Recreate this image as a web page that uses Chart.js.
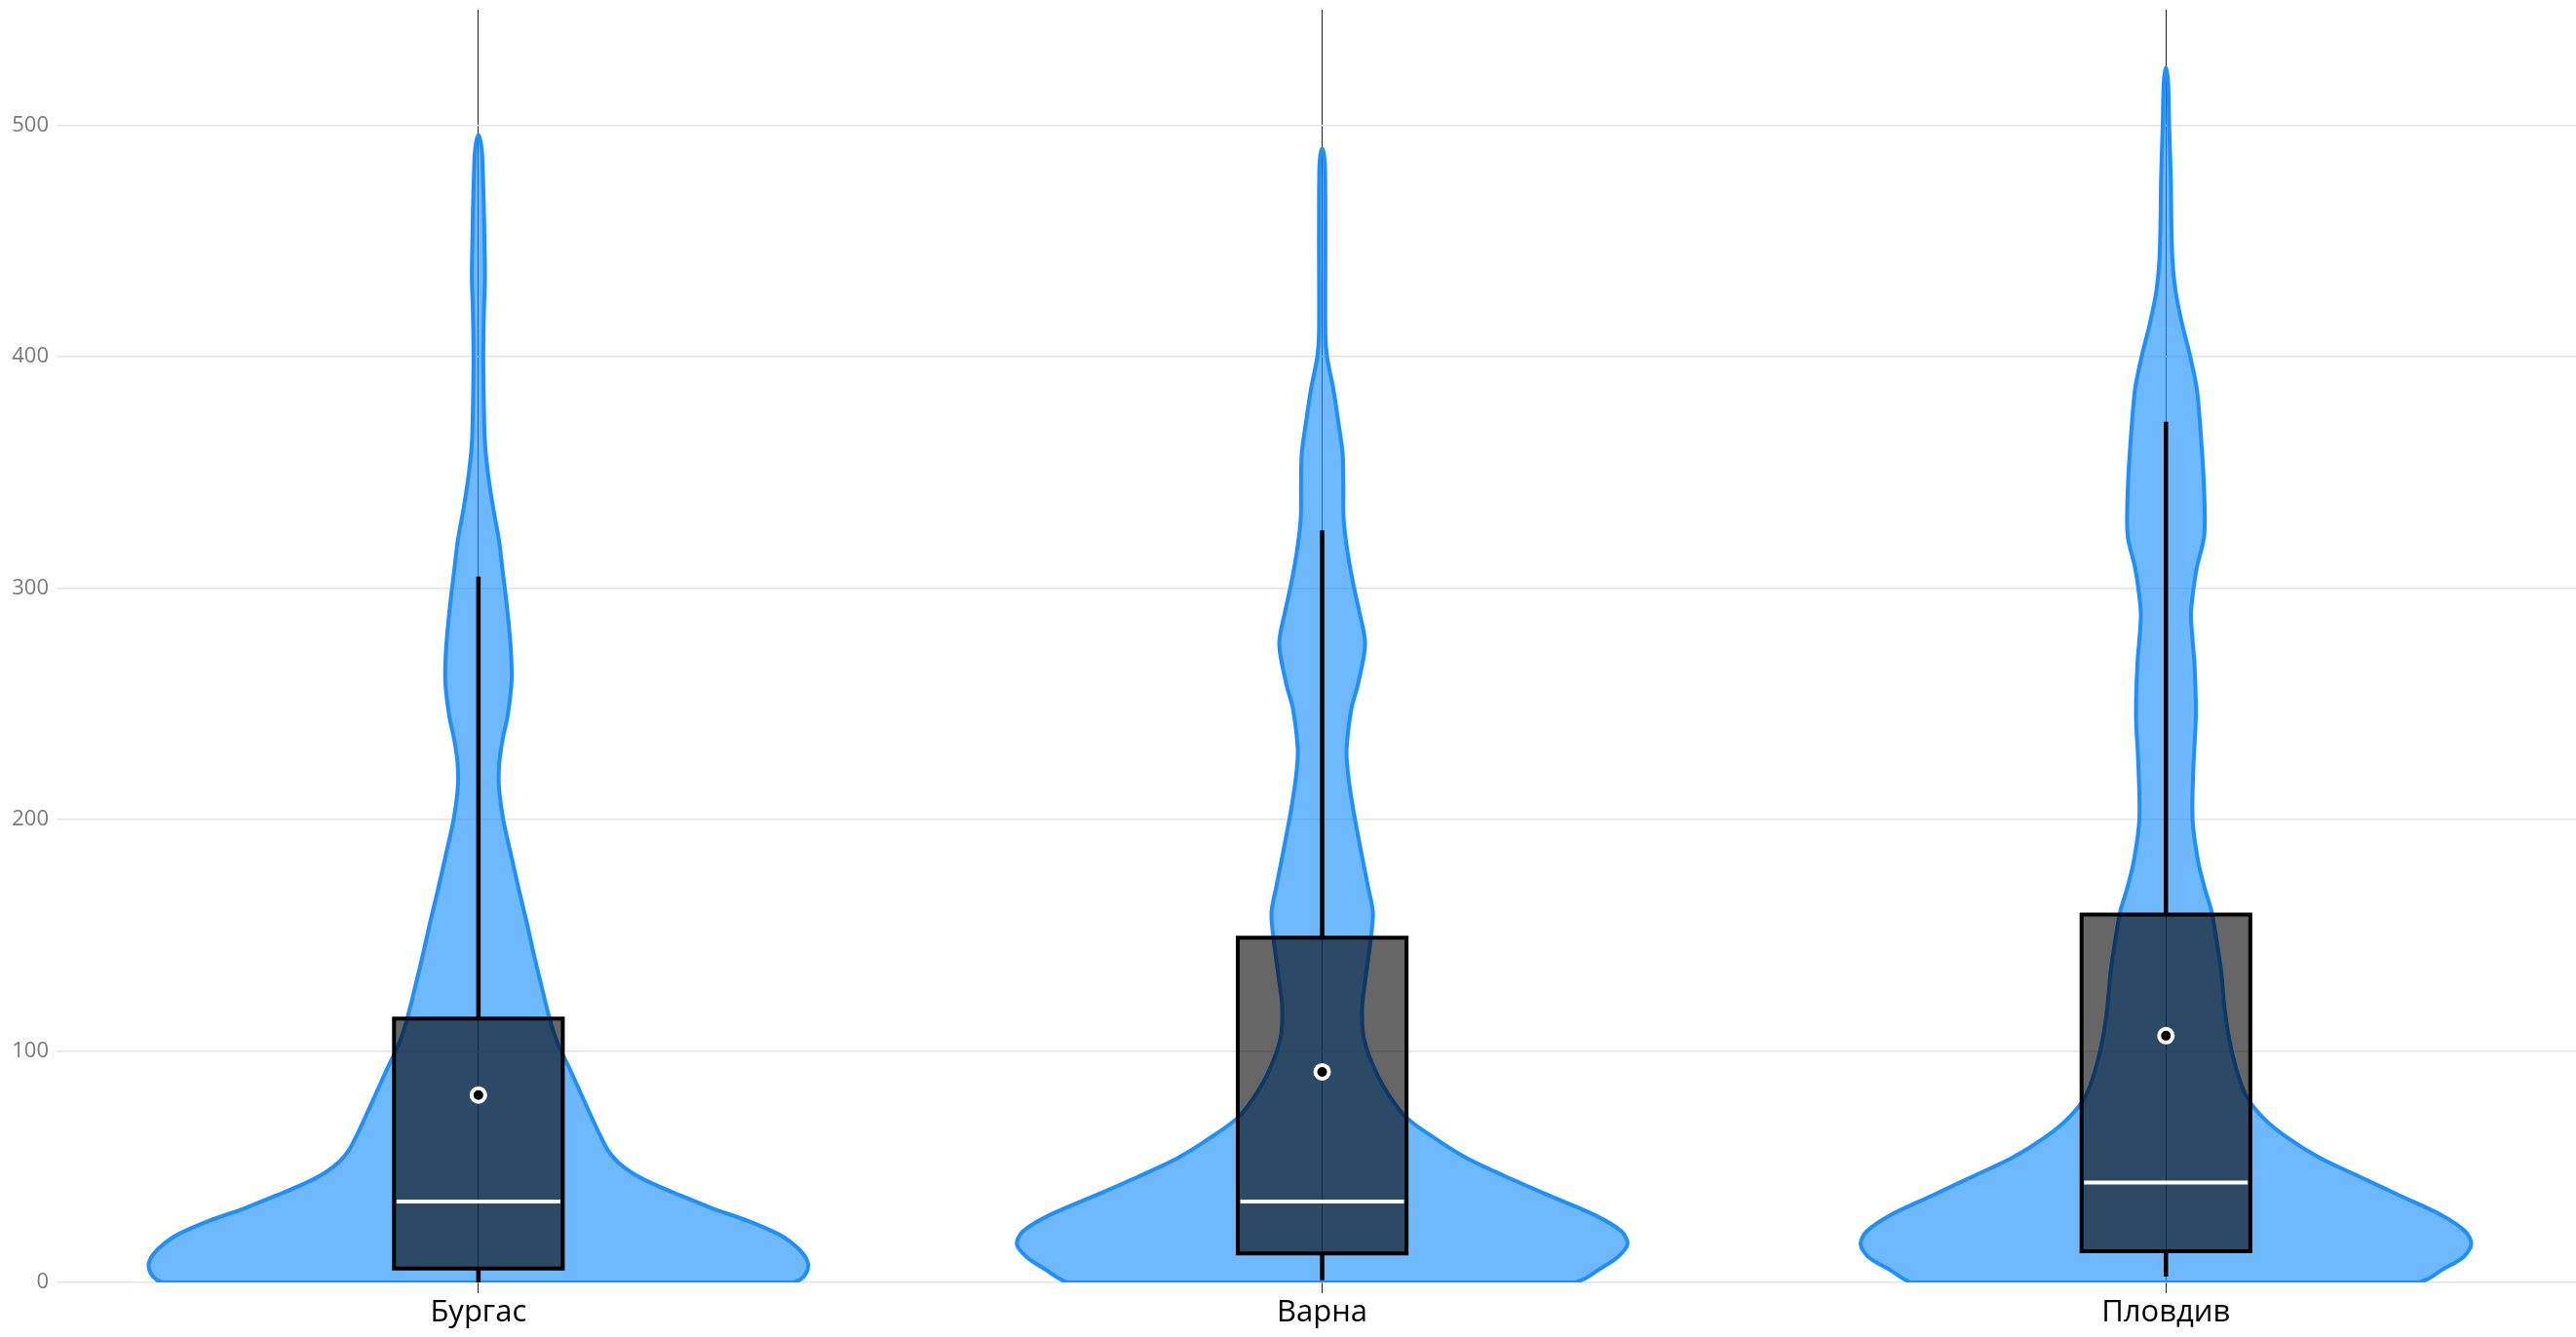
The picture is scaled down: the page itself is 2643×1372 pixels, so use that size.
<!DOCTYPE html>
<html>
<head>
<meta charset="utf-8">
<script src="https://cdn.jsdelivr.net/npm/chart.js@4.4.1/dist/chart.umd.min.js"></script>
<style>
html,body{margin:0;padding:0;background:#fff;}
#wrap{width:2643px;height:1372px;position:relative;}
</style>
</head>
<body>
<div id="wrap"><canvas id="c"></canvas></div>
<script>
// ---------- data ----------
const categories = ['Бургас', 'Варна', 'Пловдив'];
const yTickValues = [0, 100, 200, 300, 400, 500];

// violin density profiles (value levels and relative density)
const burgasLevels  = [0,1.2,4,8,12.3,16.5,21,26.5,32,37.6,43,47.5,52,57,66,77,91,103.6,114,127.5,141.5,155.6,169.7,183.7,200,214.5,225,235,245,260,275,293,307,321,335,349,363,377,400,420,434,450,462,480,490,496];
const burgasDensity = [323,330,336,338,333,323,307,277,240,207,177,157,143,133,122,110,95,81,73,65,57,49.5,41.5,34,25.5,21,21.5,25,30,34,33,29,25,21,15,10,6.7,5.7,5,5.7,6.7,6.2,5.7,4.5,3.3,0];

const varnaLevels  = [0,1.8,5.4,11,16.5,22,29,37.5,46,54,63,71,80,91,105,119,133,149,160,171,186,204,218,230,248,259,276,290,301.6,315.6,330,344,358,372,386,400,410,450,480,487,490];
const varnaDensity = [260,270,283,303,313,307,280,233,187,147,113,87,70,55,43,41,45,50,52,47,40,32,27,25,30,37,44,38,32,26,22,21.7,21,16.5,11.5,5,3.3,3.3,3,2,0];

const plovdivLevels  = [0,1.8,5.4,11,16.5,22,29,37.5,46,54,63,71,80,91,105,119,133,145,160,170,182,200,224,245,267,288,300,309,323,344,365,386,400,414,428,442,460,477,500,518,525];
const plovdivDensity = [260,270,283,305,313,307,283,240,197,157,123,100,83,73,65,60,57,53,47,40,33,27.3,28.3,30.7,29.3,25.7,28.3,31.7,39.3,39,36,31.7,25,16.7,10,6.7,5.5,5,3.3,2.3,0];

// box plot statistics
const q1Values       = [6, 12.5, 13.5];
const medianValues   = [35, 35, 43.2];
const q3Values       = [114, 149, 159];
const whiskerLows    = [0, 1, 2.5];
const whiskerHighs   = [305, 325, 372];
const meanValues     = [81, 91, 106.6];

// ---------- drawing helpers ----------
const DENSITY_SCALE = 1 / 865;   // density unit -> category width
const BOX_HALF = 0.1;
const MEDIAN_HALF = 0.097;

const profiles = [
  [burgasLevels, burgasDensity],
  [varnaLevels, varnaDensity],
  [plovdivLevels, plovdivDensity]
];

function violinPoints(i, levels, dens) {
  const right = levels.map((v, k) => ({x: i + dens[k] * DENSITY_SCALE, y: v}));
  const left = levels.slice(0, -1).map((v, k) => ({x: i - dens[k] * DENSITY_SCALE, y: v})).reverse();
  return right.concat(left, [right[0]]);
}

const datasets = [];

// mean markers (top)
datasets.push({
  data: meanValues.map((m, i) => ({x: i, y: m})),
  showLine: false,
  pointRadius: 7,
  pointBorderWidth: 4,
  pointBorderColor: '#ffffff',
  pointBackgroundColor: '#000000',
  order: 1
});

categories.forEach((c, i) => {
  // median
  datasets.push({
    data: [{x: i - MEDIAN_HALF, y: medianValues[i]}, {x: i + MEDIAN_HALF, y: medianValues[i]}],
    showLine: true, borderColor: '#ffffff', borderWidth: 4, pointRadius: 0, borderCapStyle: 'butt',
    order: 2
  });
  // whiskers
  datasets.push({
    data: [{x: i, y: q3Values[i]}, {x: i, y: whiskerHighs[i]}, {x: i, y: null}, {x: i, y: whiskerLows[i]}, {x: i, y: q1Values[i]}],
    showLine: true, spanGaps: false, borderColor: '#000000', borderWidth: 4.5, pointRadius: 0, borderCapStyle: 'butt',
    order: 3
  });
  // box
  datasets.push({
    data: [
      {x: i - BOX_HALF, y: q1Values[i]}, {x: i + BOX_HALF, y: q1Values[i]},
      {x: i + BOX_HALF, y: q3Values[i]}, {x: i - BOX_HALF, y: q3Values[i]},
      {x: i - BOX_HALF, y: q1Values[i]}, {x: i + BOX_HALF, y: q1Values[i]}
    ],
    showLine: true, fill: 'shape', backgroundColor: 'rgba(0,0,0,0.6)', borderColor: '#000000',
    borderWidth: 4, borderJoinStyle: 'miter', tension: 0, pointRadius: 0,
    order: 4
  });
  // violin
  const [lv, dn] = profiles[i];
  datasets.push({
    data: violinPoints(i, lv, dn),
    showLine: true, fill: 'shape', backgroundColor: 'rgba(30,144,255,0.645)', borderColor: '#1e8fff',
    borderWidth: 4, borderJoinStyle: 'round', tension: 0.3, pointRadius: 0,
    order: 5
  });
});

Chart.defaults.font.family = "'Open Sans', 'Noto Sans', sans-serif";

new Chart(document.getElementById('c'), {
  type: 'scatter',
  data: {datasets},
  options: {
    responsive: true,
    maintainAspectRatio: false,
    animation: false,
    events: [],
    layout: {autoPadding: false, padding: {top: 10, right: 0, bottom: 0, left: 0}},
    plugins: {legend: {display: false}, tooltip: {enabled: false}},
    scales: {
      x: {
        type: 'linear',
        min: -0.5,
        max: 2.486,
        afterBuildTicks: s => { s.ticks = categories.map((_, i) => ({value: i})); },
        afterFit: s => { s.height = 56; s.paddingLeft = 0; s.paddingRight = 0; },
        ticks: {
          callback: v => categories[v],
          font: {size: 31},
          color: '#000000',
          padding: 2,
          maxRotation: 0,
          autoSkip: false
        },
        grid: {color: '#222222', lineWidth: 1, tickLength: 11, drawOnChartArea: true},
        border: {display: false}
      },
      y: {
        min: 0,
        max: 550,
        afterBuildTicks: s => { s.ticks = yTickValues.map(v => ({value: v})); },
        afterFit: s => { s.width = 58; s.paddingTop = 0; s.paddingBottom = 0; },
        ticks: {font: {size: 22}, color: '#7a7a7a', padding: 8},
        grid: {color: '#e3e3e3', lineWidth: 1.5, drawTicks: false},
        border: {display: false}
      }
    }
  }
});
</script>
</body>
</html>
